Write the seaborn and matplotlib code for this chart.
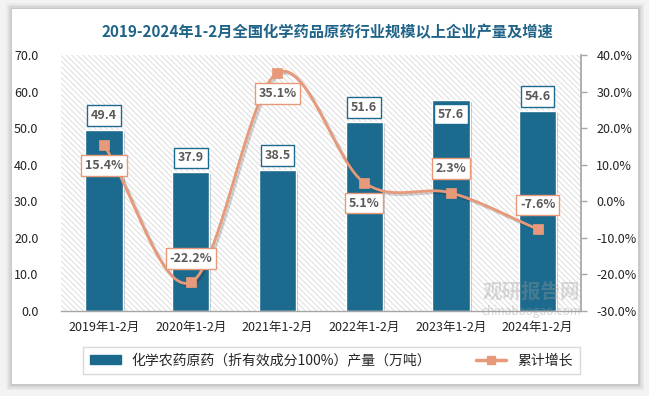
import numpy as np
import pandas as pd
import matplotlib
matplotlib.use("Agg")
import matplotlib.pyplot as plt
import seaborn as sns
from matplotlib.patches import Rectangle
from matplotlib.lines import Line2D
from matplotlib.patches import Patch
import matplotlib.patheffects as pe

# ---- data ----
categories = ["2019年1-2月", "2020年1-2月", "2021年1-2月", "2022年1-2月", "2023年1-2月", "2024年1-2月"]
output_values = [49.4, 37.9, 38.5, 51.6, 57.6, 54.6]
growth_values = [15.4, -22.2, 35.1, 5.1, 2.3, -7.6]
left_ticks = [0, 10, 20, 30, 40, 50, 60, 70]
right_ticks = [-30, -20, -10, 0, 10, 20, 30, 40]
title_text = "2019-2024年1-2月全国化学药品原药行业规模以上企业产量及增速"
bar_label_name = "化学农药原药（折有效成分100%）产量（万吨）"
line_label_name = "累计增长"

# ---- style ----
sns.set_theme(style="white")
plt.rcParams['font.family'] = ['Noto Sans CJK SC', 'DejaVu Sans']
plt.rcParams['hatch.linewidth'] = 0.6
BAR_C = '#1c6b8e'
LINE_C = '#e8997a'
TXT_C = '#595959'
growth_label_side = ['below', 'above', 'below', 'below', 'above', 'above']

W, H = 649, 396
fig = plt.figure(figsize=(W / 100, H / 100), dpi=100)
fig.patch.set_facecolor('#f3f3f3')

# card with soft shadow
for i, a in enumerate([0.03, 0.04, 0.05, 0.06]):
    d = 6 - i * 1.5
    fig.patches.append(Rectangle(((12 - d) / W, 1 - (384 + d) / H), (626 + 2 * d) / W, (375 + 2 * d) / H,
                                 transform=fig.transFigure, facecolor='black', alpha=a, lw=0, zorder=-10))
fig.patches.append(Rectangle((12 / W, 1 - 384 / H), 626 / W, 375 / H, transform=fig.transFigure,
                             facecolor='white', lw=0, zorder=-5))

ax_l, ax_r, ax_t, ax_b = 60.6, 581, 55, 311
ax = fig.add_axes([ax_l / W, 1 - ax_b / H, (ax_r - ax_l) / W, (ax_b - ax_t) / H])
ax.set_facecolor('none')

# hatched background
hatch = Rectangle((0, 0), 1, 1, transform=ax.transAxes, facecolor='white', edgecolor='#d9d9d9',
                  hatch='\\\\\\\\\\\\', lw=0, zorder=0)
ax.add_patch(hatch)

df = pd.DataFrame({"cat": categories, "val": output_values})
sns.barplot(data=df, x="cat", y="val", ax=ax, color=BAR_C, width=0.43, saturation=1,
            edgecolor='white', linewidth=1.0, zorder=2)
for p in ax.patches[1:]:
    p.set_path_effects([pe.SimplePatchShadow(offset=(1.5, -1.5), alpha=0.25), pe.Normal()])

ax.set_ylim(0, 70)
ax.set_xlim(-0.5, 5.5)
ax.set_yticks(left_ticks)
ax.set_yticklabels([f"{v:.1f}" for v in left_ticks], fontsize=9, color='#222222')
ax.set_xlabel("")
ax.set_ylabel("")
ax.tick_params(axis='x', length=0, pad=7, labelsize=9, labelcolor='#222222')
ax.tick_params(axis='y', length=0, pad=16)
for s in ['top', 'left', 'right']:
    ax.spines[s].set_visible(False)
ax.spines['bottom'].set_color('#a6a6a6')
ax.spines['bottom'].set_linewidth(1.0)

# bar labels
for i, v in enumerate(output_values):
    y = v + 4.0 if v < 56 else v - 3.8
    ax.text(i, y, f"{v:.1f}", ha='center', va='center', fontsize=9, fontweight='bold', color=TXT_C,
            zorder=6, bbox=dict(boxstyle='square,pad=0.3', fc='white', ec=BAR_C, lw=1.0))

# line on secondary axis
ax2 = ax.twinx()
ax2.set_ylim(-30, 40)
ax2.set_yticks(right_ticks)
ax2.set_yticklabels([f"{v:.1f}%" for v in right_ticks], fontsize=9, color='#222222')
for s in ['top', 'left', 'bottom']:
    ax2.spines[s].set_visible(False)
ax2.spines['right'].set_color('#a6a6a6')
ax2.tick_params(axis='y', direction='out', length=4, width=1, color='#a6a6a6', pad=7)

# smoothed curve (Catmull-Rom) through the data points
xs = np.arange(len(growth_values), dtype=float)
ys = np.array(growth_values, dtype=float)
px = np.concatenate([[2 * xs[0] - xs[1]], xs, [2 * xs[-1] - xs[-2]]])
py = np.concatenate([[2 * ys[0] - ys[1]], ys, [2 * ys[-1] - ys[-2]]])
cx, cy = [], []
t = np.linspace(0, 1, 40)
for k in range(1, len(px) - 2):
    for arr, src in ((cx, px), (cy, py)):
        p0, p1, p2, p3 = src[k - 1], src[k], src[k + 1], src[k + 2]
        arr.extend(0.5 * ((2 * p1) + (-p0 + p2) * t + (2 * p0 - 5 * p1 + 4 * p2 - p3) * t ** 2
                          + (-p0 + 3 * p1 - 3 * p2 + p3) * t ** 3))
shadow = [pe.SimpleLineShadow(offset=(1.5, -1.5), alpha=0.2), pe.Normal()]
ax2.plot(cx, cy, color=LINE_C, lw=2.0, zorder=4, path_effects=shadow, solid_capstyle='round')
gdf = pd.DataFrame({"x": xs, "g": growth_values})
sns.scatterplot(data=gdf, x="x", y="g", ax=ax2, marker='s', s=42, color=LINE_C, edgecolor=LINE_C,
                zorder=5, legend=False)
ax2.set_xlabel("")
ax2.set_ylabel("")
ax2.set_xlim(-0.5, 5.5)

for i, (g, side) in enumerate(zip(growth_values, growth_label_side)):
    off = -5.6 if side == 'below' else 6.6
    ax2.text(i, g + off, f"{g:.1f}%", ha='center', va='center', fontsize=9, fontweight='bold',
             color=TXT_C, zorder=7, bbox=dict(boxstyle='square,pad=0.3', fc='white', ec=LINE_C, lw=1.0))

# watermark
fig.text(531 / W, 1 - 292 / H, "观研报告网", ha='center', va='center', fontsize=14, fontweight='bold',
         color='#9a9a9a', alpha=0.35, zorder=10)
fig.text(531 / W, 1 - 312 / H, "chinabaogao.com", ha='center', va='center', fontsize=8.5,
         color='#9a9a9a', alpha=0.4, zorder=10)

# title
fig.text(0.504, 0.918, title_text, ha='center', va='center', fontsize=11, fontweight='bold',
         color='#1f6388', zorder=10)

# legend
handles = [Patch(facecolor=BAR_C, edgecolor=BAR_C),
           Line2D([0], [0], color=LINE_C, lw=2.5, marker='s', markersize=6)]
leg = fig.legend(handles, [bar_label_name, line_label_name], loc='center',
                 bbox_to_anchor=(331.5 / W, 1 - 360.5 / H), ncol=2, frameon=True, fontsize=10,
                 handlelength=2.2, handleheight=0.6, columnspacing=3.2, borderpad=0.5,
                 fancybox=False, edgecolor='#d0d0d0')
leg.get_frame().set_linewidth(1.0)
leg.set_zorder(10)

fig.savefig("out.png", dpi=100, facecolor=fig.get_facecolor())
